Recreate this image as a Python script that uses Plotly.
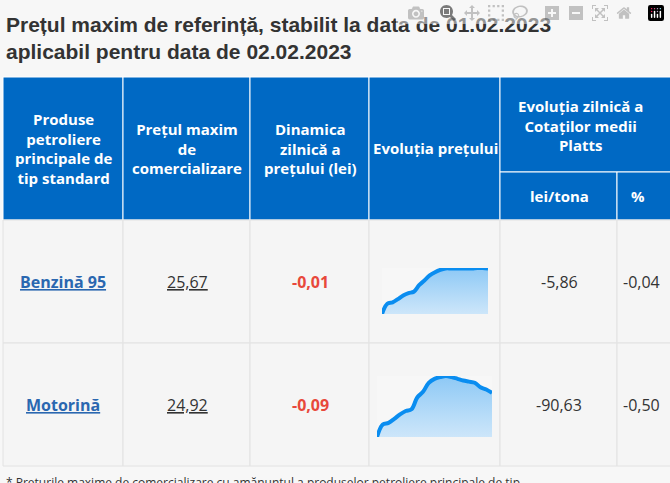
import plotly.graph_objects as go

W, H = 670, 483

products = ["Benzină 95", "Motorină"]
prices = ["25,67", "24,92"]
dynamics = ["-0,01", "-0,09"]
platts_lei = ["-5,86", "-90,63"]
platts_pct = ["-0,04", "-0,50"]

# sparkline values (relative)
benz_trend = [0.0, 0.22, 0.25, 0.32, 0.40, 0.45, 0.48, 0.62, 0.72, 0.83, 0.90,
              0.95, 0.98, 0.98, 0.98, 0.98, 0.98, 0.98, 0.99, 0.99, 0.98]
moto_trend = [0.0, 0.22, 0.25, 0.32, 0.40, 0.46, 0.49, 0.70, 0.80, 0.96, 1.03,
              1.06, 1.08, 1.06, 1.03, 1.00, 0.98, 0.96, 0.88, 0.84, 0.78]

BLUE = "#0069c4"
GRID = "#e2e2e2"
fig = go.Figure()

shapes = []
ann = []

def box(x0, y0, x1, y1, color, line="white"):
    shapes.append(dict(type="rect", xref="x", yref="y", x0=x0, y0=y0, x1=x1, y1=y1,
                       fillcolor=color, line=dict(color=line, width=1), layer="below"))

def text(x, y, t, size=15, color="white", bold=True, family="Open Sans"):
    ann.append(dict(x=x, y=y, xref="x", yref="y", text=f"<b>{t}</b>" if bold else t,
                    showarrow=False, font=dict(size=size, color=color, family=family),
                    xanchor="center", yanchor="middle"))

cols = [3, 123, 250, 369, 500, 617, 672]
# header
for i in range(5):
    if i == 4:
        box(cols[4], 77, 672, 172, BLUE)
        box(cols[4], 172, cols[5], 220, BLUE)
        box(cols[5], 172, 672, 220, BLUE)
    else:
        box(cols[i], 77, cols[i + 1], 220, BLUE)
# body
for r, (y0, y1) in enumerate([(220, 343), (343, 466)]):
    for i in range(6):
        box(cols[i], y0, cols[i + 1], y1, "#f5f5f5", line=GRID)

text(63, 148, "Produse<br>petroliere<br>principale de<br>tip standard")
text(187, 148, "Prețul maxim<br>de<br>comercializare")
text(310, 148, "Dinamica<br>zilnică a<br>prețului (lei)")
text(435, 148, "Evoluția prețului")
text(580, 125, "Evoluția zilnică a<br>Cotaților medii<br>Platts")
text(559, 196, "lei/tona")
text(638, 196, "%")

for r, yc in enumerate([282, 405]):
    text(63, yc, f"<u>{products[r]}</u>", size=16, color="#2a67b0", family="Open Sans")
    text(187, yc, f"<u>{prices[r]}</u>", size=16, color="#333333", bold=False)
    text(310, yc, dynamics[r], size=16, color="#e8483b")
    text(559, yc, platts_lei[r], size=16, color="#333333", bold=False)
    text(641, yc, platts_pct[r], size=16, color="#333333", bold=False)

ann.append(dict(x=4, y=38, xref="x", yref="y", xanchor="left", yanchor="middle", showarrow=False,
                align="left",
                text="<b>Prețul maxim de referință, stabilit la data de 01.02.2023<br>aplicabil pentru data de 02.02.2023</b>",
                font=dict(size=21, color="#333333", family="Liberation Sans")))
ann.append(dict(x=4, y=482, xref="x", yref="y", xanchor="left", yanchor="middle", showarrow=False,
                text="* Prețurile maxime de comercializare cu amănuntul a produselor petroliere principale de tip",
                font=dict(size=12, color="#333333", family="Open Sans")))

# invisible base trace to fix the pixel axes
fig.add_trace(go.Scatter(x=[0, W], y=[0, H], mode="markers", marker=dict(opacity=0),
                         hoverinfo="skip", showlegend=False))

grad = dict(type="vertical", colorscale=[[0, "rgba(200,228,250,0.9)"], [1, "rgba(135,198,245,0.95)"]])
for k, (vals, (x0, x1, y0, y1)) in enumerate([(benz_trend, (382, 488, 268, 314)),
                                                (moto_trend, (377, 492, 376, 437))]):
    n = k + 2
    fig.add_trace(go.Scatter(x=list(range(len(vals))), y=vals, mode="lines", fill="tozeroy",
                             fillgradient=grad, line=dict(color="#0a8df0", width=4, shape="spline"),
                             xaxis=f"x{n}", yaxis=f"y{n}", showlegend=False, hoverinfo="skip"))
    fig.update_layout(**{
        f"xaxis{n}": dict(domain=[x0 / W, x1 / W], range=[0, len(vals) - 1], visible=False, anchor=f"y{n}"),
        f"yaxis{n}": dict(domain=[1 - y1 / H, 1 - y0 / H], range=[0, max(vals)], visible=False, anchor=f"x{n}"),
    })

fig.update_layout(
    width=W, height=H, margin=dict(l=0, r=0, t=0, b=0),
    paper_bgcolor="#f7f7f7", plot_bgcolor="#f7f7f7",
    xaxis=dict(range=[0, W], visible=False, domain=[0, 1]),
    yaxis=dict(range=[H, 0], visible=False, domain=[0, 1]),
    shapes=shapes, annotations=ann, showlegend=False,
)

fig.write_html("out.html", post_script="document.body.style.margin='0';document.body.style.overflow='hidden';")
